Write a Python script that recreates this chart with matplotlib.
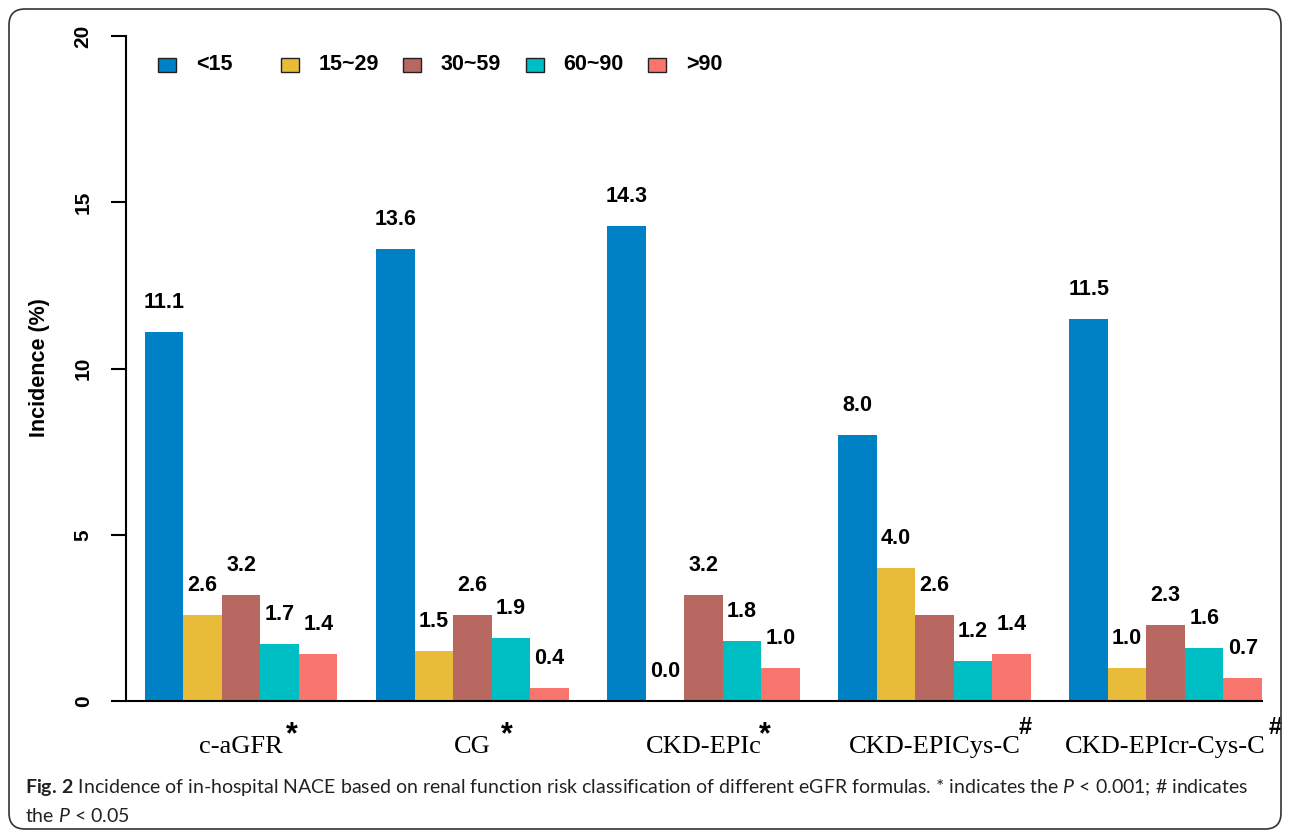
import matplotlib
matplotlib.use("Agg")
import matplotlib.pyplot as plt
from matplotlib.patches import Rectangle, FancyBboxPatch
from matplotlib.transforms import IdentityTransform
import numpy as np

plt.rcParams['font.family'] = ['Liberation Sans', 'DejaVu Sans']
plt.rcParams['mathtext.fontset'] = 'custom'
plt.rcParams['mathtext.rm'] = 'Lato'
plt.rcParams['mathtext.it'] = 'Lato:italic'
plt.rcParams['mathtext.bf'] = 'Lato:bold'

# eGFR formulas and significance marks
formulas = ["c-aGFR", "CG", "CKD-EPIc", "CKD-EPICys-C", "CKD-EPIcr-Cys-C"]
marks = ["*", "*", "*", "#", "#"]

# renal function classes (eGFR, ml/min/1.73m2)
classes = ["<15", "15~29", "30~59", "60~90", ">90"]

# incidence of NACE (%) in each class, one value per formula
inc_lt15 = [11.1, 13.6, 14.3, 8.0, 11.5]
inc_15_29 = [2.6, 1.5, 0.0, 4.0, 1.0]
inc_30_59 = [3.2, 2.6, 3.2, 2.6, 2.3]
inc_60_90 = [1.7, 1.9, 1.8, 1.2, 1.6]
inc_gt90 = [1.4, 0.4, 1.0, 1.4, 0.7]

colors = ["#0081C5", "#E8BB38", "#B86861", "#00BFC4", "#F8766D"]

W, H = 1292, 833
fig = plt.figure(figsize=(W / 100, H / 100), dpi=100)
ax = fig.add_axes([126 / W, 132 / H, (1262 - 126) / W, (701 - 36) / H])

series = [inc_lt15, inc_15_29, inc_30_59, inc_60_90, inc_gt90]
base = np.arange(len(formulas)) * 6
for k, (vals, col) in enumerate(zip(series, colors)):
    xs = base + k + 0.5
    ax.bar(xs, vals, width=1.0, color=col, linewidth=0)
    for x, v in zip(xs, vals):
        ax.annotate(f"{v:.1f}", (x, v), xytext=(0, 24), textcoords='offset pixels',
                    ha='center', va='baseline', fontsize=15.5, fontweight='bold')

ax.set_xlim(-0.49, 29)
ax.set_ylim(0, 20)
ax.spines['top'].set_visible(False)
ax.spines['right'].set_visible(False)
ax.spines['left'].set_linewidth(1.5)
ax.spines['bottom'].set_linewidth(1.5)

ax.set_yticks([0, 5, 10, 15, 20])
ax.tick_params(axis='y', length=11, width=1.5, pad=13)
for t in ax.get_yticklabels():
    t.set_rotation(90)
    t.set_va('center')
    t.set_fontsize(15)
    t.set_fontweight('bold')

ax.set_xticks(base + 2.5)
ax.set_xticklabels(formulas, family='Liberation Serif', fontsize=19)
ax.tick_params(axis='x', length=0, pad=25)

# superscript significance marks next to each formula name
dx = [9, 16, 3, 5, 9]
for lab, m, d in zip(ax.get_xticklabels(), marks, dx):
    if m == "*":
        ax.annotate(m, xy=(1, 0), xycoords=(lab, 'axes fraction'), xytext=(d, -34),
                    textcoords='offset pixels', ha='center', va='center',
                    fontsize=22, fontweight='bold')
    else:
        ax.annotate(m, xy=(1, 0), xycoords=(lab, 'axes fraction'), xytext=(d, -27),
                    textcoords='offset pixels', ha='center', va='center',
                    fontsize=17, fontweight='bold')

fig.text(39 / W, 1 - 368 / H, "Incidence (%)", rotation=90, ha='center', va='center',
         fontsize=15.5, fontweight='bold')

# legend row across the top
px = IdentityTransform()
for i, (name, col) in enumerate(zip(classes, colors)):
    x0 = 158 + 122.5 * i
    fig.patches.append(Rectangle((x0, H - 72), 18, 14, facecolor=col, edgecolor='#222222',
                                 linewidth=1.0, transform=px, figure=fig))
    fig.text((x0 + 38) / W, 1 - 65 / H, name, ha='left', va='center',
             fontsize=15.5, fontweight='bold')

# caption
fig.text(25 / W, 1 - 793 / H,
         r"$\mathbf{Fig.\,2}$ Incidence of in-hospital NACE based on renal function risk "
         r"classification of different eGFR formulas. * indicates the $P$ < 0.001; # indicates",
         family='Lato', fontsize=14, va='baseline', color='#222222')
fig.text(25 / W, 1 - 822 / H, r"the $P$ < 0.05",
         family='Lato', fontsize=14, va='baseline', color='#222222')

# rounded frame around the figure
fig.patches.append(FancyBboxPatch((9, 4), W - 20, H - 13,
                                  boxstyle="round,pad=0,rounding_size=16",
                                  facecolor='none', edgecolor='#333333', linewidth=1.2,
                                  transform=px, figure=fig))

fig.savefig("out.png", dpi=100)
